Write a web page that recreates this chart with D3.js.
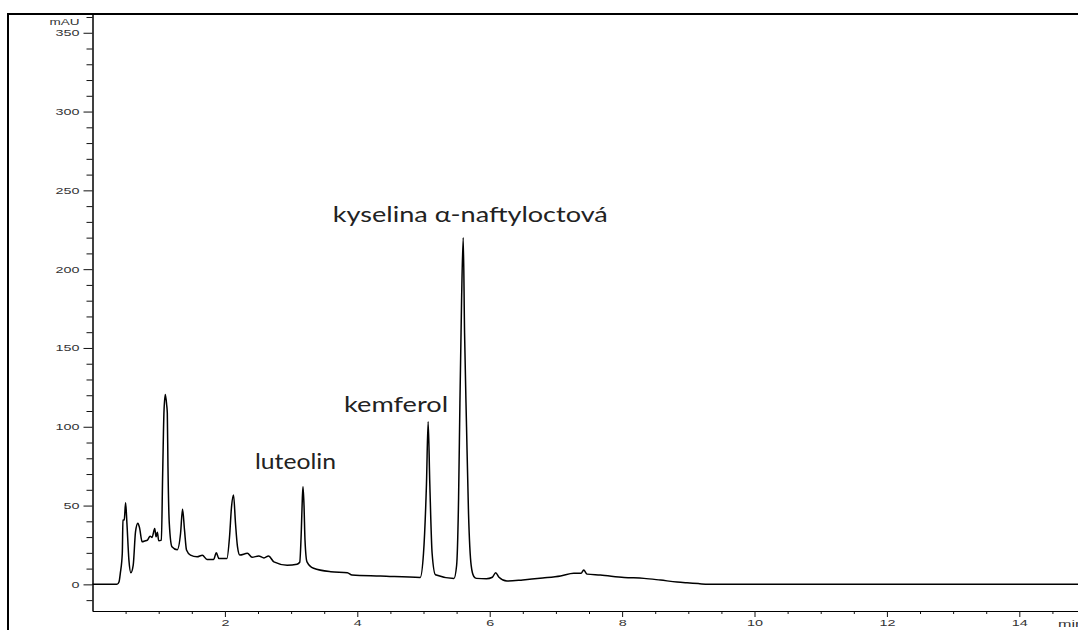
<!DOCTYPE html>
<html>
<head>
<meta charset="utf-8">
<script src="https://cdn.jsdelivr.net/npm/d3@7"></script>
<style>
  body { margin: 0; background: #fff; }
  svg { display: block; }
  .tick text { font-family: "Liberation Sans", Arial, sans-serif; font-size: 9px; fill: #333; }
  .lbl { font-family: Lato, "Open Sans", sans-serif; font-size: 21px; fill: #222; }
</style>
</head>
<body>
<div id="chart"></div>
<script>
// retention time (min) and absorbance (mAU)
const times = [0, 0.37, 0.40, 0.42, 0.45, 0.46, 0.48, 0.50, 0.52, 0.55, 0.58, 0.615, 0.65, 0.685, 0.71, 0.75, 0.79, 0.83, 0.87, 0.90,
  0.94, 0.96, 0.98, 1.00, 1.04, 1.06, 1.08, 1.10, 1.12, 1.13, 1.14, 1.16, 1.20, 1.28, 1.33, 1.36, 1.39, 1.42, 1.48, 1.58,
  1.66, 1.73, 1.83, 1.87, 1.91, 2.03, 2.07, 2.10, 2.13, 2.16, 2.19, 2.225, 2.34, 2.41, 2.51, 2.59, 2.66, 2.74, 2.94, 3.09,
  3.13, 3.155, 3.17, 3.18, 3.195, 3.21, 3.24, 3.34, 3.60, 3.85, 3.92, 4.35, 4.95, 5.00, 5.045, 5.07, 5.095, 5.13, 5.18, 5.46,
  5.50, 5.53, 5.55, 5.575, 5.60, 5.62, 5.65, 5.68, 5.72, 5.76, 5.80, 5.95, 6.04, 6.09, 6.14, 6.26, 6.50, 6.80, 7.07, 7.27,
  7.38, 7.42, 7.47, 7.67, 8.03, 8.33, 8.58, 8.83, 8.98, 9.15, 9.30, 14.9];
const mau = [0, 0, 1.5, 7, 19.7, 40.8, 41, 51.8, 38.7, 15.4, 7.4, 12.2, 33.4, 38.7, 36, 27, 27.5, 28.1, 30.6, 29.8,
  35.5, 30.2, 33, 27.7, 28.1, 70.4, 110, 120.5, 114, 108.7, 74.6, 38.7, 23.9, 22, 32.3, 47.6, 34.4, 21.8, 18.6, 17.5,
  18.5, 15.8, 15.8, 20, 16.4, 16.4, 30.2, 49.2, 56.7, 38.7, 23.9, 18.6, 19.7, 17.2, 18, 16.8, 18, 14.3, 12.2, 12.8,
  14, 35, 55, 62, 50, 28, 14.3, 10.2, 8, 7.4, 5.9, 5.3, 4.4, 19.7, 64, 103.2, 64, 19.7, 6.1, 3.8,
  12, 55, 115, 180, 220, 160, 100, 45, 12, 5, 3.8, 3.5, 4.5, 7.4, 4.5, 2.1, 2.8, 4, 5.3, 7,
  7, 9.1, 6.5, 5.9, 4.4, 3.8, 2.7, 1.5, 1, 0.5, 0, 0];

const yMajor = [0, 50, 100, 150, 200, 250, 300, 350];
const xMajor = [2, 4, 6, 8, 10, 12, 14];

const peakNames = ["luteolin", "kemferol", "kyselina α-naftyloctová"];
const peakLabelT = [2.455, 3.80, 3.63];
const peakLabelV = [73.2, 109.4, 230];
const peakLabelW = [81, 104, 275];

const W = 1078, H = 630;
const svg = d3.select("#chart").append("svg")
    .attr("width", W)
    .attr("height", H);

const x = d3.scaleLinear().domain([0, 14.9]).range([92.5, 1078.9]);
const y = d3.scaleLinear().domain([-16.9, 361.9]).range([611, 14]);

// outer frame (left + top)
svg.append("path")
    .attr("d", "M8,630V14H1078")
    .attr("fill", "none")
    .attr("stroke", "#000")
    .attr("stroke-width", 2);

// minor ticks
const yMinor = d3.range(-10, 361, 10).filter(v => v % 50 !== 0);
const xMinor = d3.range(0.5, 14.9, 0.5).filter(v => v % 2 !== 0);

svg.append("g")
    .attr("transform", "translate(" + x(0) + ",0)")
    .call(d3.axisLeft(y).tickValues(yMinor).tickSize(6).tickSizeOuter(0).tickFormat(""));
const yAx = svg.append("g")
    .attr("transform", "translate(" + x(0) + ",0)")
    .call(d3.axisLeft(y).tickValues(yMajor).tickSize(9).tickPadding(4).tickSizeOuter(0));
yAx.selectAll("text")
    .attr("textLength", d => String(d).length * 8)
    .attr("lengthAdjust", "spacingAndGlyphs");

svg.append("g")
    .attr("transform", "translate(0," + y.range()[0] + ")")
    .call(d3.axisBottom(x).tickValues(xMinor).tickSize(3).tickSizeOuter(0).tickFormat(""));
const xAx = svg.append("g")
    .attr("transform", "translate(0," + y.range()[0] + ")")
    .call(d3.axisBottom(x).tickValues(xMajor).tickSize(6).tickPadding(3).tickSizeOuter(0));
xAx.selectAll("text")
    .attr("textLength", d => String(d).length * 8)
    .attr("lengthAdjust", "spacingAndGlyphs");

svg.selectAll(".domain").attr("stroke", "#000");
svg.selectAll(".tick line").attr("stroke", "#111");

// unit labels
svg.append("text")
    .attr("x", x(0) - 13)
    .attr("y", 25)
    .attr("text-anchor", "end")
    .attr("textLength", 30)
    .attr("lengthAdjust", "spacingAndGlyphs")
    .style("font-family", "Liberation Sans, Arial, sans-serif")
    .style("font-size", "9px")
    .style("fill", "#333")
    .text("mAU");
svg.append("text")
    .attr("x", 1058)
    .attr("y", 627)
    .attr("textLength", 26)
    .attr("lengthAdjust", "spacingAndGlyphs")
    .style("font-family", "Liberation Sans, Arial, sans-serif")
    .style("font-size", "9px")
    .style("fill", "#333")
    .text("min");

// chromatogram trace
const line = d3.line()
    .x(i => x(times[i]))
    .y(i => y(mau[i]))
    .curve(d3.curveMonotoneX);

svg.append("path")
    .datum(d3.range(times.length))
    .attr("d", line)
    .attr("fill", "none")
    .attr("stroke", "#000")
    .attr("stroke-width", 1.5)
    .attr("stroke-linejoin", "round");

// peak names
svg.selectAll(".lbl")
    .data(peakNames)
    .enter()
    .append("text")
        .attr("class", "lbl")
        .attr("x", (d, i) => x(peakLabelT[i]))
        .attr("y", (d, i) => y(peakLabelV[i]))
        .attr("textLength", (d, i) => peakLabelW[i])
        .attr("lengthAdjust", "spacingAndGlyphs")
        .text(d => d);
</script>
</body>
</html>
